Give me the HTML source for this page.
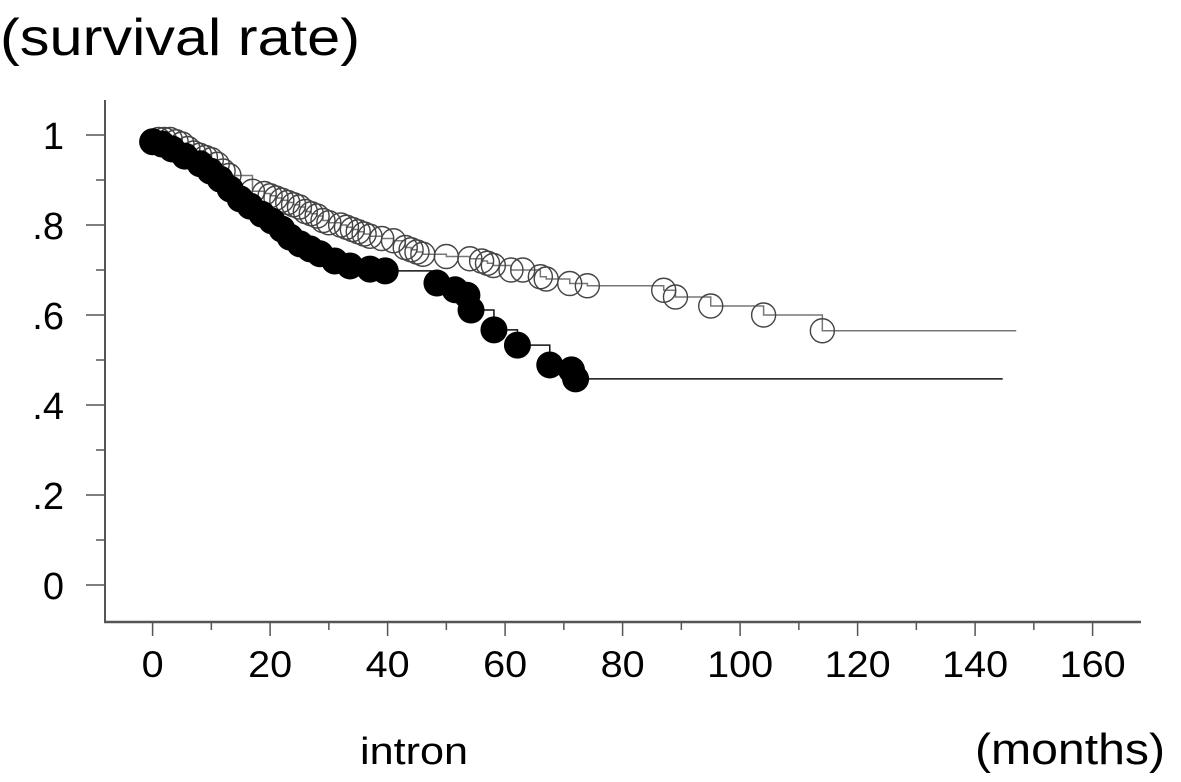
<!DOCTYPE html>
<html><head><meta charset="utf-8"><style>
html,body{margin:0;padding:0;background:#fff;}
svg{display:block;font-family:"Liberation Sans",sans-serif;}
</style></head><body>
<svg id="chart" width="1181" height="782" viewBox="0 0 1181 782">
<text x="0" y="55" font-size="52" textLength="360" lengthAdjust="spacingAndGlyphs">(survival rate)</text>
<text x="360" y="764" font-size="38" textLength="108" lengthAdjust="spacingAndGlyphs">intron</text>
<text x="975" y="764" font-size="44" textLength="190" lengthAdjust="spacingAndGlyphs">(months)</text>
<g id="axes"></g>
<g id="series"></g>
</svg>
<script>
const xTicks=[0,20,40,60,80,100,120,140,160];
const xMinor=[10,30,50,70,90,110,130,150];
const yTicks=[0,0.2,0.4,0.6,0.8,1];
const yTickLabels=["0",".2",".4",".6",".8","1"];
const yMinor=[0.1,0.3,0.5,0.7,0.9];
const openTimes=[1,2,3,4,5,6,7,8,9,10,11,12,13,17,19,20,21,22,23,24,25,26,27,28,29,30,32,33,34,35,36,37,39,41,43,44,45,46,50,54,56,57,58,61,63,66,67,71,74,87,89,95,104,114];
const openSurv=[.99,.99,.99,.985,.98,.97,.96,.955,.95,.945,.935,.92,.91,.875,.87,.865,.86,.855,.85,.845,.84,.83,.825,.82,.81,.805,.8,.795,.79,.785,.78,.775,.77,.765,.75,.745,.74,.735,.73,.725,.72,.715,.71,.7,.7,.685,.68,.67,.665,.655,.64,.62,.6,.565];
const openEnd=147;
const filledTimes=[0,1.6,3.3,5.5,8.1,9.8,11.5,13.2,14.9,16.6,18.6,20.3,22,23.4,25.1,26.8,28.5,31,33.6,37,39.6,48.4,51.5,53.5,54.2,58.1,62.1,67.6,71.3,72];
const filledSurv=[.985,.98,.969,.953,.936,.92,.902,.88,.858,.842,.824,.809,.791,.773,.758,.747,.736,.72,.709,.702,.698,.671,.656,.644,.611,.567,.533,.489,.478,.458];
const filledEnd=144.7;

const NS="http://www.w3.org/2000/svg";
const X=t=>152.6+t*5.875;
const Y=s=>585-s*450;
function mk(tag,attrs,parent){const e=document.createElementNS(NS,tag);for(const k in attrs)e.setAttribute(k,attrs[k]);parent.appendChild(e);return e;}
const ax=document.getElementById('axes');
let l=mk('line',{x1:105,y1:100,x2:105,y2:622,stroke:'#555','stroke-width':2},ax);


l=mk('line',{x1:104,y1:622,x2:1141,y2:622,stroke:'#555','stroke-width':2.5},ax);


xTicks.forEach(t=>{
  const tk=mk('line',{x1:X(t),y1:622,x2:X(t),y2:636,stroke:'#555','stroke-width':1.5},ax);
  
  
  const tx=mk('text',{x:X(t),y:677,'font-size':37,'text-anchor':'middle',textLength:String(t).length*22,lengthAdjust:'spacingAndGlyphs'},ax);
  tx.textContent=t;
  
  
});
xMinor.forEach(t=>{
  const tk=mk('line',{x1:X(t),y1:622,x2:X(t),y2:630,stroke:'#555','stroke-width':1.5},ax);
  
  
});
yTicks.forEach((v,i)=>{
  const tk=mk('line',{x1:86,y1:Y(v),x2:105,y2:Y(v),stroke:'#555','stroke-width':1.5},ax);
  
  
  const tx=mk('text',{x:64,y:Y(v)+14,'font-size':38,'text-anchor':'end'},ax);
  tx.textContent=yTickLabels[i];
  
  
});
yMinor.forEach(v=>{
  const tk=mk('line',{x1:96,y1:Y(v),x2:105,y2:Y(v),stroke:'#555','stroke-width':1.5},ax);
  
  
});
const sg=document.getElementById('series');
function stepPath(ts,ss,end){
  let d=`M${X(0)},${Y(1)}`;
  ts.forEach((t,i)=>{d+=` H${X(t)} V${Y(ss[i])}`;});
  d+=` H${X(end)}`;return d;
}
let p=mk('path',{d:stepPath(openTimes,openSurv,openEnd),fill:'none',stroke:'#777','stroke-width':1.5},sg);


p=mk('path',{d:stepPath(filledTimes,filledSurv,filledEnd),fill:'none',stroke:'#111','stroke-width':1.5},sg);


openTimes.forEach((t,i)=>{
  const c=mk('circle',{cx:X(t),cy:Y(openSurv[i]),r:12,fill:'none',stroke:'#444','stroke-width':1.4},sg);
  
  
});
filledTimes.forEach((t,i)=>{
  const c=mk('circle',{cx:X(t),cy:Y(filledSurv[i]),r:13.5,fill:'#000'},sg);
  
  
});
</script>
</body></html>
